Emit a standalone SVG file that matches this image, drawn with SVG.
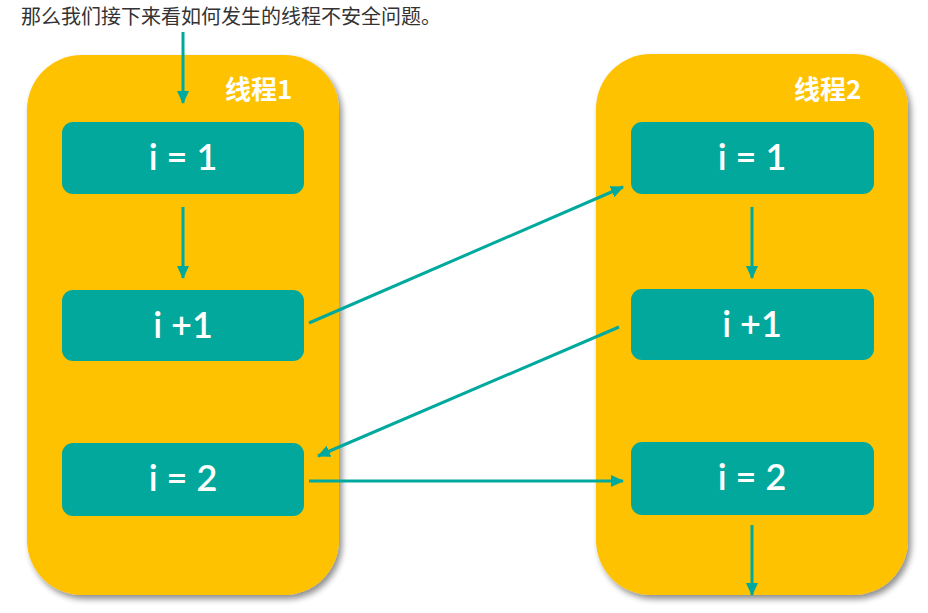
<svg xmlns="http://www.w3.org/2000/svg" width="928" height="613" viewBox="0 0 928 613">
<defs>
<filter id="sh" x="-10%" y="-10%" width="125%" height="125%">
<feGaussianBlur in="SourceAlpha" stdDeviation="3"/>
<feOffset dx="3" dy="4" result="b"/>
<feComponentTransfer><feFuncA type="linear" slope="0.45"/></feComponentTransfer>
<feMerge><feMergeNode/><feMergeNode in="SourceGraphic"/></feMerge>
</filter>
<marker id="ah" markerUnits="userSpaceOnUse" markerWidth="14" markerHeight="12" refX="12" refY="6" orient="auto">
<path d="M0,0 L13,6 L0,12 Z" fill="#00A99D"/>
</marker>
</defs>
<style>
.cont{fill:#FEC200;filter:url(#sh)}
.box{fill:#02A89C}
.val{font-family:Lato,"Open Sans","Noto Sans",sans-serif;font-size:36px;font-weight:600;fill:#fff;text-anchor:middle}
.lbl{font-family:"Noto Sans CJK SC","Noto Sans",sans-serif;font-size:26px;font-weight:bold;fill:#fff}
.ln{stroke:#00A99D;stroke-width:3;fill:none;marker-end:url(#ah)}
</style>
<rect width="928" height="613" fill="#fff"/>
<text x="21" y="24" font-family="'Noto Sans CJK SC',sans-serif" font-size="20" fill="#333">那么我们接下来看如何发生的线程不安全问题。</text>
<g id="thread1">
<rect class="cont" x="27" y="55" width="312" height="540" rx="55"/>
<text class="lbl" x="225" y="99">线程1</text>
</g>
<g id="thread2">
<rect class="cont" x="596" y="54" width="312" height="541" rx="55"/>
<text class="lbl" x="794" y="99">线程2</text>
</g>
<g id="t1a"><rect class="box" x="62" y="122" width="242" height="72" rx="11"/><text class="val" x="183" y="170">i = 1</text></g>
<g id="t1b"><rect class="box" x="62" y="290" width="242" height="71" rx="11"/><text class="val" x="183" y="338">i +1</text></g>
<g id="t1c"><rect class="box" x="62" y="443" width="242" height="73" rx="11"/><text class="val" x="183" y="491">i = 2</text></g>
<g id="t2a"><rect class="box" x="631" y="122" width="243" height="72" rx="11"/><text class="val" x="752" y="170">i = 1</text></g>
<g id="t2b"><rect class="box" x="631" y="289" width="243" height="71" rx="11"/><text class="val" x="752" y="337">i +1</text></g>
<g id="t2c"><rect class="box" x="631" y="442" width="243" height="73" rx="11"/><text class="val" x="752" y="490">i = 2</text></g>
<g id="connectors">
<line class="ln" x1="183" y1="32" x2="183" y2="103"/>
<line class="ln" x1="183" y1="207" x2="183" y2="278"/>
<line class="ln" x1="752" y1="207" x2="752" y2="278"/>
<line class="ln" x1="309" y1="323" x2="623" y2="187"/>
<line class="ln" x1="619" y1="327" x2="318" y2="456"/>
<line class="ln" x1="309" y1="481" x2="623" y2="481"/>
<line class="ln" x1="752" y1="525" x2="752" y2="595"/>
</g>
</svg>
